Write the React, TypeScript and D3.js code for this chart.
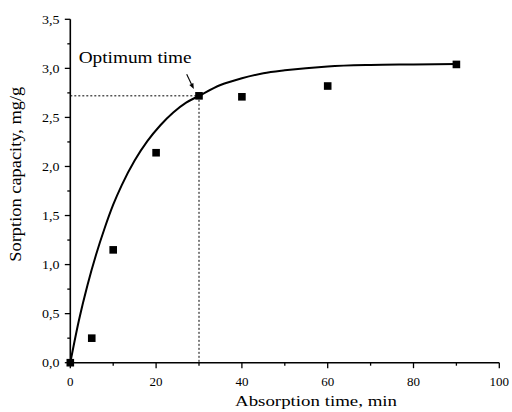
import React from "react";
import * as d3 from "d3";

const pointTime = [0, 5, 10, 20, 30, 40, 60, 90];
const pointCapacity = [0, 0.25, 1.15, 2.14, 2.72, 2.71, 2.82, 3.04];

const fitTime = [0, 2, 4, 6, 8, 10, 12, 15, 18, 21, 24, 27, 30, 35, 40, 45, 50, 60, 70, 80, 90];
const fitCapacity = [0, 0.43, 0.79, 1.1, 1.37, 1.61, 1.81, 2.06, 2.26, 2.42, 2.55, 2.65, 2.72, 2.83, 2.9, 2.95, 2.98, 3.02, 3.035, 3.04, 3.045];

const xTicks = [0, 20, 40, 60, 80, 100];
const xMinor = [10, 30, 50, 70, 90];
const yTicks = [0, 0.5, 1, 1.5, 2, 2.5, 3, 3.5];
const yMinor = [0.25, 0.75, 1.25, 1.75, 2.25, 2.75, 3.25];

const optimumTime = 30;
const optimumCapacity = 2.72;

const W = 512;
const H = 412;
const FONT = "'Liberation Serif', 'Times New Roman', serif";

export default function App() {
  const x = d3.scaleLinear().domain([0, 100]).range([70.3, 499.3]);
  const y = d3.scaleLinear().domain([0, 3.5]).range([362.7, 19.3]);
  const fmt = (v: number) => v.toFixed(1).replace(".", ",");

  const fitPts: [number, number][] = fitTime.map((t, i) => [t, fitCapacity[i]]);
  const line = d3
    .line<[number, number]>()
    .x((d) => x(d[0]))
    .y((d) => y(d[1]))
    .curve(d3.curveMonotoneX);

  const x0 = x(0);
  const y0 = y(0);
  const ox = x(optimumTime);
  const oy = y(optimumCapacity);
  const ms = 7.6;

  return (
    <svg
      width={W}
      height={H}
      style={{ position: "absolute", left: 0, top: 0, background: "#fff" }}
      fontFamily={FONT}
    >
      <rect x={0} y={0} width={W} height={H} fill="#fff" />
      {/* reference dotted lines */}
      <line x1={x0} x2={ox} y1={oy} y2={oy} stroke="#000" strokeWidth={1} strokeDasharray="2,2" />
      <line x1={ox} x2={ox} y1={oy} y2={y0} stroke="#000" strokeWidth={1} strokeDasharray="2,2" />

      {/* fit curve */}
      <path d={line(fitPts) || ""} fill="none" stroke="#000" strokeWidth={2} />

      {/* axes */}
      <line x1={x0} x2={x(100)} y1={y0} y2={y0} stroke="#000" strokeWidth={1.6} />
      <line x1={x0} x2={x0} y1={y0 + 0.8} y2={y(3.5)} stroke="#000" strokeWidth={1.6} />
      {xTicks.map((t) => (
        <g key={"xt" + t}>
          <line x1={x(t)} x2={x(t)} y1={y0} y2={y0 + 5.5} stroke="#000" strokeWidth={1.3} />
          <text x={x(t)} y={385.5} fontSize={13} textAnchor="middle" fill="#000">
            {t}
          </text>
        </g>
      ))}
      {xMinor.map((t) => (
        <line key={"xm" + t} x1={x(t)} x2={x(t)} y1={y0} y2={y0 + 3} stroke="#000" strokeWidth={1.3} />
      ))}
      {yTicks.map((t) => (
        <g key={"yt" + t}>
          <line x1={x0 - 5.5} x2={x0} y1={y(t)} y2={y(t)} stroke="#000" strokeWidth={1.3} />
          <text
            x={59.5}
            y={y(t) + 4.3}
            fontSize={13}
            textAnchor="end"
            fill="#000"
            textLength={17.5}
            lengthAdjust="spacingAndGlyphs"
          >
            {fmt(t)}
          </text>
        </g>
      ))}
      {yMinor.map((t) => (
        <line key={"ym" + t} x1={x0 - 3} x2={x0} y1={y(t)} y2={y(t)} stroke="#000" strokeWidth={1.3} />
      ))}

      {/* markers */}
      {pointTime.map((t, i) => (
        <rect
          key={"p" + t}
          x={x(t) - ms / 2}
          y={y(pointCapacity[i]) - ms / 2}
          width={ms}
          height={ms}
          fill="#000"
        />
      ))}

      {/* annotation */}
      <text
        x={78.7}
        y={63.3}
        fontSize={16}
        fill="#000"
        textLength={113}
        lengthAdjust="spacingAndGlyphs"
      >
        Optimum time
      </text>
      <line x1={186.7} y1={74.3} x2={191.6} y2={84.5} stroke="#000" strokeWidth={1.1} />
      <path d="M193.8,89 L189.3,84.9 L193.4,82.9 Z" fill="#000" />

      {/* axis titles */}
      <text
        x={316}
        y={405.5}
        fontSize={15.5}
        textAnchor="middle"
        fill="#000"
        textLength={162}
        lengthAdjust="spacingAndGlyphs"
      >
        Absorption time, min
      </text>
      <text
        transform={`translate(21,174.2) rotate(-90)`}
        fontSize={16}
        textAnchor="middle"
        fill="#000"
        textLength={175}
        lengthAdjust="spacingAndGlyphs"
      >
        Sorption capacity, mg/g
      </text>
    </svg>
  );
}
